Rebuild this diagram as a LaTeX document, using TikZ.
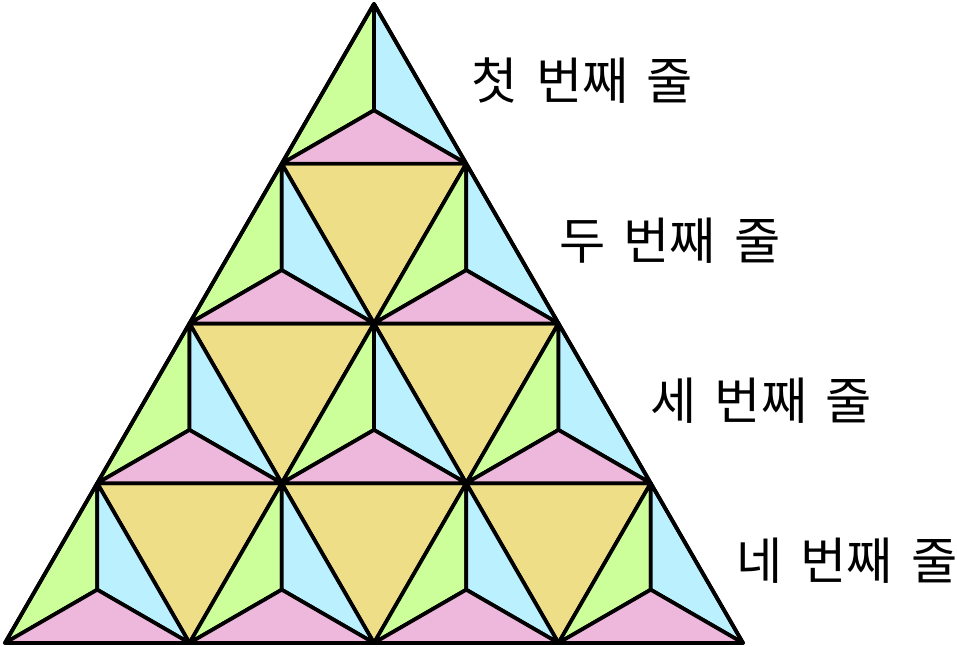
\documentclass[tikz,border=0pt]{standalone}
\usepackage{fontspec}
\newfontfamily\krfont[WordSpace=1.6]{Noto Sans CJK KR}
\usetikzlibrary{calc}
\definecolor{leafgreen}{RGB}{204,255,153}
\definecolor{skyblue}{RGB}{187,240,255}
\definecolor{softpink}{RGB}{238,184,221}
\definecolor{sandyellow}{RGB}{238,222,136}

\begin{document}
\begin{tikzpicture}[line width=1.15pt, line join=round,
    part/.style={draw=black},
    rowlabel/.style={anchor=west, inner sep=0pt, font=\krfont\fontsize{15.5}{18}\selectfont}]
    \useasboundingbox (-0.054,-0.043) rectangle (10.320,6.970);
    \pgfmathsetmacro{\h}{sqrt(3)}

    % Downward triangles
    \foreach \r in {1,2,3}{
        \pgfmathtruncatemacro{\last}{\r-1}
        \foreach \k in {0,...,\last}{
            \pgfmathsetmacro{\x}{4-\r+2*\k}
            \pgfmathsetmacro{\y}{(4-\r)*\h}
            \fill[sandyellow, part] (\x,\y) -- (\x+2,\y) -- (\x+1,\y-\h) -- cycle;
        }
    }

    % Upward triangles, split at the centroid
    \foreach \r in {0,1,2,3}{
        \foreach \k in {0,...,\r}{
            \pgfmathsetmacro{\x}{4-\r+2*\k}
            \pgfmathsetmacro{\y}{(4-\r)*\h}
            \coordinate (top) at (\x,\y);
            \coordinate (bl) at (\x-1,\y-\h);
            \coordinate (br) at (\x+1,\y-\h);
            \coordinate (mid) at (\x,\y-2*\h/3);
            \fill[leafgreen, part] (top) -- (bl) -- (mid) -- cycle;
            \fill[skyblue, part] (top) -- (mid) -- (br) -- cycle;
            \fill[softpink, part] (bl) -- (br) -- (mid) -- cycle;
        }
    }

    % Outer border
    \draw (0,0) -- (8,0) -- (4,4*\h) -- cycle;

    % Row labels
    \node[rowlabel] (row1) at (5.04,6.10) {첫 번째 줄};
    \node[rowlabel] (row2) at (5.99,4.365) {두 번째 줄};
    \node[rowlabel] (row3) at (6.98,2.63) {세 번째 줄};
    \node[rowlabel] (row4) at (7.91,0.895) {네 번째 줄};
\end{tikzpicture}
\end{document}
